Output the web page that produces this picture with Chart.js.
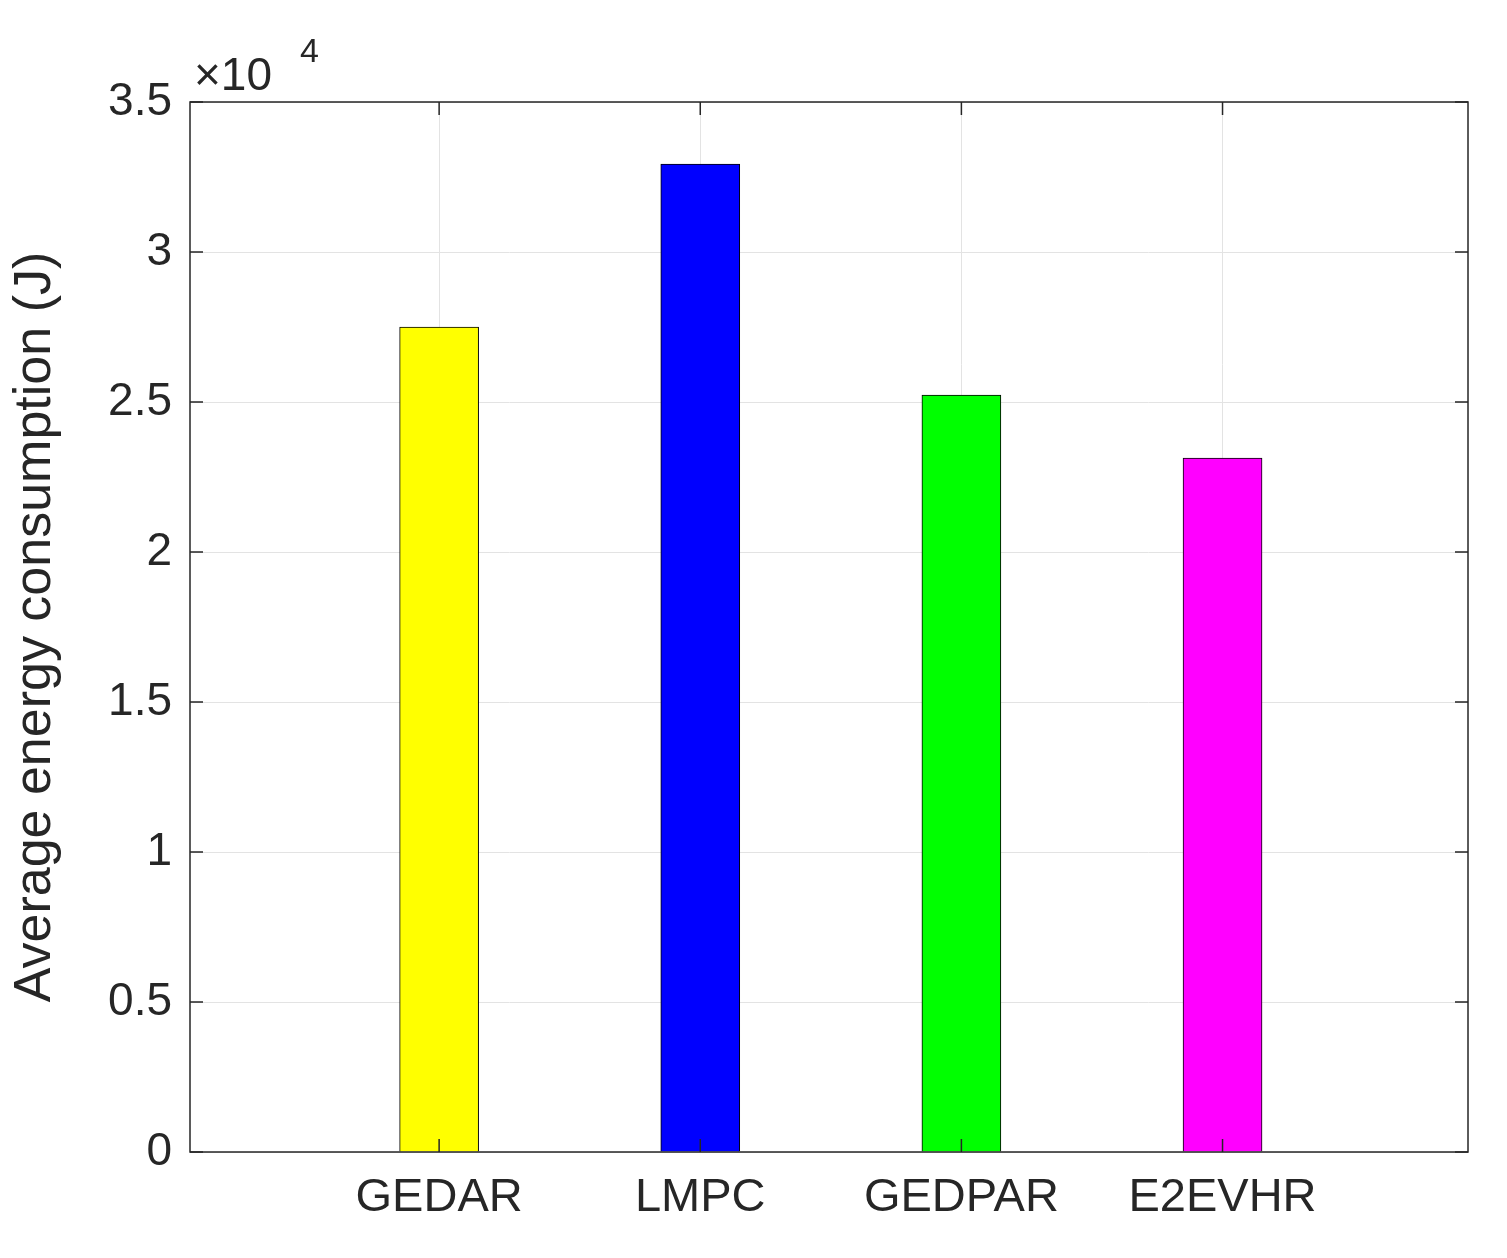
<!DOCTYPE html>
<html><head><meta charset="utf-8">
<script src="https://cdn.jsdelivr.net/npm/chart.js@4"></script>
<style>html,body{margin:0;padding:0;background:#fff}#w{width:1507px;height:1258px}</style>
</head><body><div id="w"><canvas id="c"></canvas></div>
<script>
const categories = ['GEDAR','LMPC','GEDPAR','E2EVHR'];
const values = [27500, 32930, 25230, 23130];
const colors = ['#ffff00','#0000ff','#00ff00','#ff00ff'];
const yTicks = [0,5000,10000,15000,20000,25000,30000,35000];
const font = 'Arial, "Liberation Sans", sans-serif';

const frame = {
  id:'frame',
  afterDraw(ch){
    const {ctx, chartArea:a, scales} = ch;
    ctx.save();
    ctx.strokeStyle='#262626'; ctx.lineWidth=1.5;
    ctx.strokeRect(a.left,a.top,a.right-a.left,a.bottom-a.top);
    ctx.beginPath();
    yTicks.forEach(v=>{const y=scales.y.getPixelForValue(v);
      ctx.moveTo(a.left,y);ctx.lineTo(a.left+13,y);ctx.moveTo(a.right,y);ctx.lineTo(a.right-13,y);});
    [1,2,3,4].forEach(v=>{const x=scales.x.getPixelForValue(v);
      ctx.moveTo(x,a.bottom);ctx.lineTo(x,a.bottom-13);ctx.moveTo(x,a.top);ctx.lineTo(x,a.top+13);});
    ctx.stroke();
    ctx.fillStyle='#262626';
    ctx.font='46px '+font; ctx.textBaseline='alphabetic';
    ctx.fillText('\u00d710',194,90);
    ctx.font='34px '+font;
    ctx.fillText('4',300,62);
    ctx.restore();
  }
};

new Chart(document.getElementById('c'),{
  type:'bar',
  data:{datasets:[{
    data: categories.map((c,i)=>({x:i+1,y:values[i]})),
    backgroundColor: colors, borderColor:'#000', borderWidth:1, barThickness:79
  }]},
  options:{
    responsive:true, maintainAspectRatio:false, animation:false,
    layout:{padding:{top:102,right:39,left:0,bottom:0}},
    plugins:{legend:{display:false},tooltip:{enabled:false}},
    scales:{
      x:{type:'linear',min:0.046,max:4.94,offset:false,
        afterBuildTicks(s){s.ticks=[1,2,3,4].map(v=>({value:v}));},
        afterFit(s){s.height=106;},
        ticks:{callback:(v)=>categories[v-1]||'',font:{size:47,family:font},color:'#262626',padding:18,maxRotation:0,autoSkip:false},
        grid:{color:'#e3e3e3',drawTicks:false,offset:false},border:{display:false}},
      y:{min:0,max:35000,
        afterBuildTicks(s){s.ticks=yTicks.map(v=>({value:v}));},
        afterFit(s){s.width=190;},
        ticks:{callback:(v)=>String(v/10000),font:{size:46,family:font},color:'#262626',padding:18},
        grid:{color:'#e3e3e3',drawTicks:false},border:{display:false},
        title:{display:true,text:'Average energy consumption (J)',font:{size:52,family:font},color:'#262626',padding:{bottom:2}}}
    }
  },
  plugins:[frame]
});
</script></body></html>
